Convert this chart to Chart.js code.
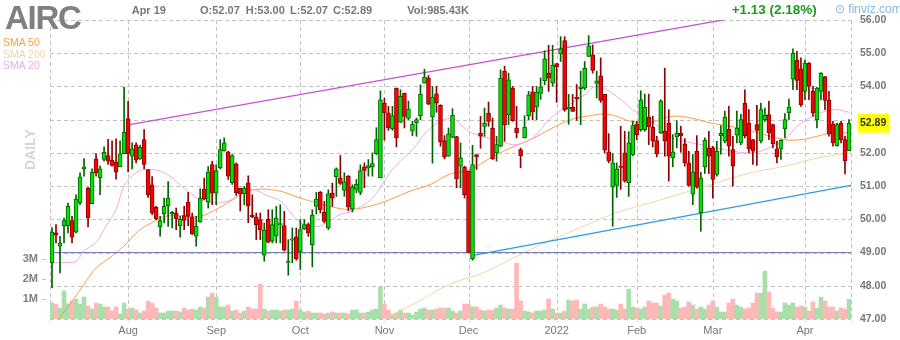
<!DOCTYPE html>
<html><head><meta charset="utf-8">
<script src="https://cdn.jsdelivr.net/npm/chart.js@4.4.1/dist/chart.umd.min.js"></script>
<style>
html,body{margin:0;padding:0;background:#fff;}
#wrap{position:relative;width:900px;height:340px;overflow:hidden;font-family:"Liberation Sans",Arial,sans-serif;}
#c{position:absolute;left:0;top:0;}
.t{position:absolute;white-space:nowrap;line-height:1;}
.hd{font-size:11px;font-weight:bold;color:#777;top:4.6px;}
</style></head><body>
<div id="wrap">
<canvas id="c" width="900" height="340"></canvas>
<div class="t" style="left:5px;top:1px;font-size:33px;font-weight:bold;color:#808080;letter-spacing:-1.3px;">AIRC</div>
<div class="t" style="left:3px;top:37px;font-size:10.5px;color:#ff9c45;">SMA 50</div>
<div class="t" style="left:3px;top:48.6px;font-size:10.5px;color:#f3d5a2;">SMA 200</div>
<div class="t" style="left:3px;top:60.3px;font-size:10.5px;color:#f2a8e6;">SMA 20</div>
<div class="t" style="left:23px;top:170px;font-size:14px;font-weight:bold;color:#d6d6d6;transform:rotate(-90deg);transform-origin:0 0;">DAILY</div>
<div class="t hd" style="left:131.7px;">Apr 19</div>
<div class="t hd" style="left:200px;">O:52.07</div>
<div class="t hd" style="left:245.7px;">H:53.00</div>
<div class="t hd" style="left:290px;">L:52.07</div>
<div class="t hd" style="left:333px;">C:52.89</div>
<div class="t hd" style="left:407.3px;">Vol:985.43K</div>
<div class="t" style="left:731.7px;top:2.9px;font-size:13.5px;font-weight:bold;color:#1e9a1e;">+1.13 (2.18%)</div>
<div class="t" style="left:835px;top:2.5px;font-size:12px;color:#8ab6e2;">&#8857; finviz.com</div>
</div>
<script>
// ---------- data ----------
const monthTickIdx = [19, 41, 62, 83, 104, 126, 146, 165, 188];
const monthTickLabels = ['Aug', 'Sep', 'Oct', 'Nov', 'Dec', '2022', 'Feb', 'Mar', 'Apr'];
const priceTicks = [47, 48, 49, 50, 51, 52, 53, 54, 55, 56];
const volumeTicks = [1, 2, 3]; // millions
const lastPrice = 52.89;

const opens = [48.69,49.59,49.19,49.81,49.81,49.96,49.61,50.49,51.52,50.94,
50.47,51.82,51.25,51.80,51.92,51.78,51.73,51.58,51.98,53.03,
51.90,52.24,51.82,52.40,51.50,51.04,50.37,49.77,50.17,50.41,
50.16,50.19,49.81,50.11,50.51,50.07,49.49,49.92,50.91,50.52,
51.65,50.79,51.55,52.07,52.03,51.10,51.67,50.94,50.77,51.10,
50.13,50.07,49.99,48.92,50.01,49.34,49.49,49.84,49.81,48.71,
49.37,49.47,49.02,49.71,49.84,49.24,50.39,50.81,50.21,49.74,
50.79,51.28,51.25,50.87,51.30,50.31,50.90,50.81,51.58,51.55,
51.58,51.98,51.25,53.50,53.20,52.72,53.95,52.92,53.80,53.04,
52.65,52.90,53.12,54.10,54.25,53.08,53.78,53.43,52.37,51.90,
52.47,52.49,51.60,51.58,51.45,48.81,51.95,52.60,52.80,53.20,
52.75,52.00,52.20,54.46,53.15,53.95,52.75,52.10,52.45,53.12,
53.84,53.38,53.79,54.17,54.40,54.10,54.69,54.98,55.38,53.32,
53.38,53.68,53.93,53.95,54.90,54.95,54.09,54.32,53.76,52.03,
50.97,51.02,51.60,52.00,51.10,51.94,52.87,52.70,52.70,53.08,
52.78,52.37,52.60,52.65,52.90,51.85,52.48,52.60,52.27,51.70,
50.76,52.05,50.19,51.58,52.15,52.15,51.35,52.52,52.35,52.72,
52.10,52.53,52.30,53.50,52.90,52.40,52.85,52.35,53.00,53.15,
52.85,52.12,52.12,52.72,53.20,54.22,54.79,54.53,53.85,54.70,
53.85,53.00,53.85,54.30,53.58,52.87,52.22,52.90,52.40,52.07];

const highs = [49.75,49.84,49.49,50.04,50.49,50.09,50.74,51.40,51.83,50.96,
51.52,51.98,51.60,52.18,52.41,52.36,52.42,52.36,53.97,53.55,
52.30,52.30,52.23,52.70,51.50,51.29,50.39,50.09,50.64,51.14,
50.24,50.34,50.09,50.39,50.81,50.19,50.09,50.92,51.24,51.59,
51.75,51.64,52.40,52.45,52.05,51.95,51.70,50.94,50.99,51.31,
50.74,50.19,50.19,49.89,50.29,50.29,50.39,50.44,50.24,49.39,
49.74,49.74,49.99,49.99,49.89,50.29,50.81,50.84,50.54,50.89,
51.09,51.55,51.92,51.40,51.32,51.04,51.20,51.64,51.70,51.80,
52.00,52.76,53.87,53.65,53.40,53.40,53.95,53.90,53.80,53.56,
52.95,53.05,54.05,54.52,54.33,54.00,54.00,53.45,52.52,52.75,
53.33,52.50,52.30,51.60,51.45,52.23,51.95,53.10,53.35,53.53,
53.05,52.50,54.50,54.61,54.40,54.00,53.40,52.15,53.12,53.85,
54.00,54.00,54.26,55.07,55.24,55.24,54.69,55.50,55.50,53.76,
53.76,54.06,54.46,54.75,55.53,55.25,54.46,54.86,53.76,52.58,
51.98,51.70,52.80,52.65,52.64,52.95,52.95,53.87,53.77,53.77,
53.10,52.50,53.60,54.55,53.30,52.55,52.97,52.80,52.43,52.05,
51.95,52.52,51.42,52.45,52.65,52.20,52.35,52.82,53.26,53.40,
52.50,53.26,53.16,53.90,53.30,52.40,53.43,53.50,53.35,53.55,
52.87,52.35,52.40,53.18,53.62,55.13,55.06,54.86,54.80,54.72,
54.00,53.97,54.42,54.30,53.85,52.95,52.90,52.95,52.50,53.00];

const lows = [47.94,49.29,48.39,49.29,49.59,49.29,49.59,50.44,51.30,49.77,
50.47,51.30,50.74,51.75,51.65,51.60,51.21,51.58,51.98,51.43,
51.52,51.70,51.80,51.52,50.66,50.14,49.99,49.49,49.89,49.79,
49.74,49.69,49.46,49.69,49.81,49.54,49.19,49.91,50.59,50.34,
50.44,50.44,51.52,52.05,51.20,51.05,50.72,50.25,50.44,49.90,
50.05,49.39,49.39,48.74,49.29,49.29,49.29,49.29,49.04,48.32,
48.69,48.77,48.49,49.69,49.49,48.57,50.16,50.19,49.89,49.69,
50.39,50.69,51.05,50.69,50.26,50.22,50.80,50.74,50.95,51.30,
51.30,51.95,51.25,52.38,52.68,52.68,52.18,52.92,52.75,53.00,
52.52,52.50,53.00,54.10,53.45,51.69,53.22,52.20,51.82,51.90,
52.45,50.95,50.95,50.64,48.99,48.77,51.50,52.14,52.50,52.80,
51.80,51.75,52.18,52.35,52.85,52.95,52.45,51.55,52.45,53.00,
53.00,53.00,53.61,54.05,53.85,54.00,53.52,54.75,53.25,52.86,
53.25,52.98,52.85,53.90,54.90,54.40,53.65,53.52,52.00,51.70,
49.79,50.66,50.90,51.12,50.69,51.91,52.40,52.65,52.65,52.25,
52.18,51.88,52.58,51.90,51.15,51.58,52.15,52.02,51.60,51.00,
50.44,50.94,49.64,51.38,51.38,50.64,51.30,51.96,52.30,51.90,
51.00,52.30,52.25,52.45,52.00,51.65,51.62,52.30,52.95,52.40,
52.15,51.70,51.80,52.45,53.00,53.90,53.90,53.40,53.60,53.60,
53.10,52.75,53.60,53.30,52.50,52.20,52.20,52.30,51.37,52.07];

const closes = [49.62,49.52,49.29,49.96,50.39,49.46,50.61,51.28,51.58,50.04,
51.42,51.40,51.52,52.02,51.75,51.62,51.42,51.97,52.63,51.98,
52.12,51.78,52.17,51.65,50.74,50.19,50.01,49.96,50.39,50.64,
50.22,50.01,50.01,49.97,50.09,49.57,49.79,50.64,50.61,51.42,
50.79,51.47,52.10,52.30,51.30,51.92,50.80,50.77,50.94,50.40,
50.07,49.84,49.69,49.67,49.31,49.84,50.04,49.86,49.07,48.73,
49.41,48.81,49.69,49.84,49.59,50.13,50.61,50.29,49.94,50.77,
50.64,51.52,51.08,51.13,50.37,50.96,51.05,51.47,51.47,51.62,
51.68,52.40,53.60,53.20,52.75,53.12,52.45,53.70,53.10,53.32,
52.87,53.00,53.77,54.28,53.47,53.68,53.50,52.32,51.87,52.57,
53.13,51.22,51.85,50.74,49.01,51.65,51.88,52.50,52.90,52.95,
51.82,52.25,54.25,52.85,54.20,52.97,52.60,51.92,52.78,53.75,
53.23,53.83,53.99,54.83,54.25,54.64,54.59,55.13,53.30,53.38,
53.25,53.63,53.99,54.55,55.22,54.48,54.17,53.58,52.08,51.75,
51.70,51.52,51.57,51.15,52.30,52.82,52.55,53.60,53.38,52.78,
52.35,51.97,53.57,52.35,51.90,52.03,52.60,52.52,51.70,51.02,
51.42,50.97,51.25,52.38,51.90,51.20,52.05,52.59,53.08,52.20,
51.60,52.75,53.00,52.52,52.12,52.05,52.68,53.30,53.13,52.60,
52.28,51.88,52.38,53.00,53.38,55.00,54.18,53.45,54.70,54.00,
53.20,53.95,54.40,53.58,52.57,52.30,52.85,52.40,51.76,52.89];

const volumesM = [0.80,0.75,0.55,1.40,0.75,0.90,1.00,0.75,1.10,0.65,
0.50,0.80,0.75,0.60,0.60,0.40,0.60,0.25,0.80,0.50,
0.55,0.45,0.30,0.40,0.90,0.80,0.55,0.30,0.30,0.40,
0.40,0.40,0.35,0.55,0.45,0.50,0.45,0.60,0.55,1.10,
1.30,1.10,0.60,0.60,0.70,0.40,0.45,0.30,0.40,0.60,
0.50,0.50,1.75,0.50,0.40,0.45,0.45,0.40,0.45,0.45,
0.50,0.90,0.45,0.35,0.40,0.30,0.30,0.30,0.25,0.30,
0.35,0.30,0.30,0.30,0.25,0.45,0.45,0.30,0.30,0.35,
0.45,0.50,1.60,0.75,0.45,0.25,0.30,0.45,0.30,0.30,
0.20,0.35,0.50,0.55,0.45,0.45,0.50,0.55,0.55,0.55,
0.40,0.30,0.40,0.75,0.75,0.60,0.60,0.45,0.40,0.45,
0.45,0.55,0.70,0.55,0.50,0.50,2.80,0.90,0.40,0.35,
0.30,0.40,0.40,0.45,1.00,0.50,0.30,0.30,0.40,0.95,
0.90,0.95,0.50,0.75,0.50,0.60,0.60,0.75,0.60,0.50,
0.50,0.45,0.75,0.50,1.50,0.60,0.55,0.50,0.60,0.90,
0.80,0.80,0.65,1.20,1.30,1.00,0.90,0.55,0.60,0.85,
0.70,0.50,0.60,0.50,0.70,0.90,0.60,0.35,0.35,0.80,
1.00,0.70,0.60,0.50,0.55,0.80,1.30,1.30,2.40,1.35,
0.55,0.35,0.35,0.80,0.70,0.80,0.60,0.65,0.60,0.40,
0.85,0.55,1.10,0.90,0.60,0.60,0.40,0.55,0.50,0.985];

// moving averages, read at sample points (index, value)
const sma20Idx = [0,3,6,8,11,13,16,18,21,24,28,34,37,40,42,45,47,50,54,57,62,65,67,70,72,75,80,85,90,95,100,102,105,112,116,120,122,125,133,136,141,145,149,152,155,158,162,166,170,175,179,183,186,190,193,196,199];
const sma20Val = [48.69,48.70,48.74,49.05,49.30,49.70,50.30,51.00,51.40,51.50,51.40,50.84,50.60,50.50,50.50,50.60,50.80,50.90,50.70,50.55,49.90,49.80,49.80,50.00,50.15,50.25,50.64,51.50,52.10,52.80,53.05,52.85,52.60,52.35,52.25,52.45,52.70,53.10,53.75,54.00,53.70,53.30,53.00,52.75,52.45,52.35,52.25,52.15,52.05,52.00,52.15,52.40,52.80,53.10,53.25,53.30,53.22];
const sma50Idx = [0,1.6,6.6,10.75,15,18,21.6,24.5,28.7,37,41,45.3,49.5,56,62,66,70,74.5,79.5,84.5,89.5,94.5,99.5,104.5,109.5,114.5,119.5,124.5,129.5,134.5,138,141,144.5,149.5,154.5,159.5,164.5,169.5,174.5,183,187,191,195.5,199];
const sma50Val = [46.85,47.0,47.8,48.5,48.9,49.2,49.65,49.87,50.1,50.1,50.3,50.6,50.87,50.87,50.64,50.5,50.37,50.3,50.4,50.6,50.85,51.05,51.37,51.5,51.85,52.15,52.4,52.72,53.0,53.12,53.17,53.1,52.95,52.92,53.1,53.05,52.9,52.8,52.66,52.4,52.4,52.5,52.62,52.6];
const sma200Idx = [82,91,99.5,107.8,116.2,124.5,132.8,141,149.5,157.8,166,174.5,183,191.3,199.5];
const sma200Val = [46.95,47.5,48.05,48.4,48.9,49.37,49.8,50.2,50.5,50.8,51.1,51.4,51.6,51.85,52.0];

// drawn trend lines (index, price)
const resistIdx = [19, 199.5];
const resistVal = [52.84, 56.68];
const supportIdx = [104.5, 199.5];
const supportVal = [48.9, 51.02];
const levelIdx = [-0.5, 199.5];
const levelVal = [49, 49];

// ---------- styling ----------
const GRID = '#c2c2c2';
const UP_FILL = '#00e400', UP_EDGE = '#006400';
const DN_FILL = '#ff0000', DN_EDGE = '#8b0000';
const VOL_UP = '#aadeaa', VOL_DN = '#ffb8b8';
const FONT = '"Liberation Sans", Arial, sans-serif';

const up = closes.map((c, i) => c >= opens[i]);
const bodyData = opens.map((o, i) => {
  let lo = Math.min(o, closes[i]), hi = Math.max(o, closes[i]);
  if (hi - lo < 0.04) { const m = (hi + lo) / 2; lo = m - 0.02; hi = m + 0.02; }
  return { x: i, y: [lo, hi] };
});
const wickData = highs.map((h, i) => ({ x: i, y: [lows[i], h] }));
const volData = volumesM.map((v, i) => ({ x: i, y: v * 1e6 }));
const pts = (xs, ys) => xs.map((x, k) => ({ x, y: ys[k] }));
const lineDs = (label, xs, ys, color, width, tension, order) => ({
  type: 'line', label, data: pts(xs, ys), xAxisID: 'x', yAxisID: 'y',
  borderColor: color, borderWidth: width, pointRadius: 0, tension, fill: false, order
});
const xGridTicks = [-0.5, ...monthTickIdx, 199.5];

// dashed grid lines placed from the axes' own ticks
const dashedGrid = {
  id: 'dashedGrid',
  beforeDraw(chart) {
    const { ctx, chartArea: a, scales } = chart;
    ctx.save();
    ctx.strokeStyle = GRID;
    ctx.lineWidth = 1;
    ctx.setLineDash([4, 3]);
    scales.y.ticks.forEach(t => {
      if (t.value === lastPrice) return;
      const y = Math.round(scales.y.getPixelForValue(t.value)) + 0.5;
      ctx.beginPath(); ctx.moveTo(a.left, y); ctx.lineTo(a.right, y); ctx.stroke();
    });
    scales.x.ticks.forEach(t => {
      const x = Math.round(scales.x.getPixelForValue(t.value)) + 0.5;
      ctx.beginPath(); ctx.moveTo(x, a.top); ctx.lineTo(x, a.bottom + 3); ctx.stroke();
    });
    scales.yv.ticks.forEach(t => {
      const y = Math.round(scales.yv.getPixelForValue(t.value)) + 0.5;
      ctx.beginPath(); ctx.moveTo(a.left - 8, y); ctx.lineTo(a.left - 4, y); ctx.stroke();
    });
    ctx.restore();
  }
};

new Chart(document.getElementById('c'), {
  type: 'bar',
  plugins: [dashedGrid],
  data: {
    datasets: [
      { type: 'bar', label: 'body', data: bodyData, xAxisID: 'x', yAxisID: 'y',
        backgroundColor: up.map(u => u ? UP_FILL : DN_FILL), borderColor: up.map(u => u ? UP_EDGE : DN_EDGE),
        borderWidth: 1, borderSkipped: false, barThickness: 4, grouped: false, order: 0 },
      { type: 'bar', label: 'wick', data: wickData, xAxisID: 'x', yAxisID: 'y',
        backgroundColor: up.map(u => u ? UP_EDGE : DN_EDGE), barThickness: 1, grouped: false, order: 1 },
      lineDs('resist', resistIdx, resistVal, '#c653d6', 1.3, 0, 2),
      lineDs('support', supportIdx, supportVal, '#2a9ee0', 1.3, 0, 2),
      lineDs('level', levelIdx, levelVal, '#7777b5', 1, 0, 2),
      lineDs('SMA 20', sma20Idx, sma20Val, '#f2a8e6', 1, 0.4, 3),
      lineDs('SMA 50', sma50Idx, sma50Val, '#ff9c45', 1, 0.4, 3),
      lineDs('SMA 200', sma200Idx, sma200Val, '#f3d5a2', 1, 0.4, 3),
      { type: 'bar', label: 'volume', data: volData, xAxisID: 'x', yAxisID: 'yv',
        backgroundColor: up.map(u => u ? VOL_UP : VOL_DN), barThickness: 4, grouped: false, order: 10 }
    ]
  },
  options: {
    responsive: false, animation: false, devicePixelRatio: 1,
    layout: { padding: { top: 20, left: 0, right: 0, bottom: 0 } },
    plugins: { legend: { display: false }, tooltip: { enabled: false } },
    scales: {
      x: {
        type: 'linear', min: -0.5, max: 199.5, offset: false, position: 'bottom',
        afterBuildTicks: s => { s.ticks = xGridTicks.map(v => ({ value: v })); },
        afterFit: s => { s.height = 21; },
        ticks: { autoSkip: false, maxRotation: 0, padding: 5, color: '#777',
          font: { family: FONT, size: 11 },
          callback: v => { const k = monthTickIdx.indexOf(v); return k >= 0 ? monthTickLabels[k] : ''; } },
        grid: { display: false, drawTicks: false },
        border: { display: false }
      },
      y: {
        type: 'linear', position: 'right', min: 47, max: 56,
        afterBuildTicks: s => { s.ticks = [...priceTicks, lastPrice].map(v => ({ value: v })); },
        afterFit: s => { s.width = 49; },
        ticks: { padding: 9, color: c => c.tick && c.tick.value === lastPrice ? '#333' : '#777',
          font: { family: FONT, size: 10.5, weight: 'bold' },
          callback: v => v.toFixed(2),
          showLabelBackdrop: c => !!(c.tick && c.tick.value === lastPrice),
          backdropColor: '#ffff00', backdropPadding: { top: 3, bottom: 3, left: 2, right: 3 } },
        grid: { display: false, drawTicks: false },
        border: { display: false }
      },
      yv: {
        type: 'linear', position: 'left', min: 0, max: 15e6,
        afterBuildTicks: s => { s.ticks = volumeTicks.map(v => ({ value: v * 1e6 })); },
        afterFit: s => { s.width = 50; },
        ticks: { padding: 12, color: '#808080', font: { family: FONT, size: 11, weight: 'bold' },
          callback: v => (v / 1e6) + 'M' },
        grid: { display: false, drawTicks: false },
        border: { display: false }
      }
    }
  }
});
</script>
</body></html>
